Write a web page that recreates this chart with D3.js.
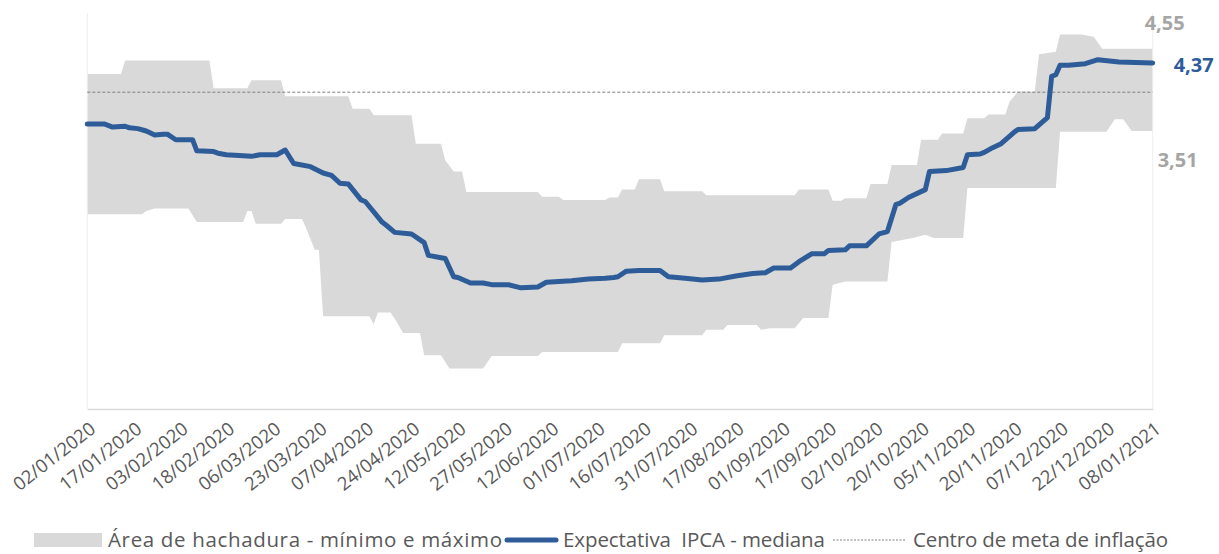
<!DOCTYPE html>
<html>
<head>
<meta charset="utf-8">
<script src="https://cdn.jsdelivr.net/npm/d3@7"></script>
<style>
  body { margin: 0; background: #fff; }
  text { font-family: "Open Sans", "Noto Sans", sans-serif; }
</style>
</head>
<body>
<div id="container"></div>
<script>
/* CONSTANTS AND GLOBALS */
const width = 1219;
const height = 554;
const margin = { left: 87, right: 66, top: 13, bottom: 145 };

/* DATA - x is the business-day number since 02/01/2020 */
const tickLabels = ["02/01/2020", "17/01/2020", "03/02/2020", "18/02/2020", "06/03/2020", "23/03/2020",
  "07/04/2020", "24/04/2020", "12/05/2020", "27/05/2020", "12/06/2020", "01/07/2020", "16/07/2020",
  "31/07/2020", "17/08/2020", "01/09/2020", "17/09/2020", "02/10/2020", "20/10/2020", "05/11/2020",
  "20/11/2020", "07/12/2020", "22/12/2020", "08/01/2021"];
const daysPerTick = 11;
const lastDay = 253;

const medianDays = [0, 4, 6, 9, 10, 12, 14, 16, 18, 19, 21, 25, 26, 30, 31, 33, 36, 39, 41, 45,
  47, 49, 50, 53, 56, 58, 60, 62, 65, 66, 68, 70, 71, 73, 77, 80, 81, 84, 85, 87,
  88, 91, 94, 96, 100, 103, 107, 109, 115, 119, 123, 125, 126, 128, 131, 136, 138, 142, 146, 150,
  154, 158, 161, 163, 167, 169, 172, 175, 176, 180, 181, 185, 188, 190, 192, 193, 195, 199, 200, 204,
  208, 209, 212, 213, 215, 217, 220, 221, 225, 228, 229, 230, 231, 233, 237, 240, 245, 253];
const medianValues = [3.60, 3.60, 3.56, 3.57, 3.55, 3.54, 3.51, 3.46, 3.47, 3.47, 3.40, 3.40, 3.26, 3.25, 3.23, 3.21, 3.20, 3.19, 3.21, 3.21,
  3.27, 3.10, 3.09, 3.06, 2.98, 2.95, 2.85, 2.84, 2.64, 2.62, 2.49, 2.36, 2.32, 2.23, 2.21, 2.10, 1.94, 1.91, 1.90, 1.67,
  1.66, 1.59, 1.59, 1.57, 1.57, 1.53, 1.54, 1.60, 1.62, 1.64, 1.65, 1.66, 1.67, 1.74, 1.75, 1.75, 1.67, 1.65, 1.63, 1.64,
  1.68, 1.71, 1.72, 1.78, 1.78, 1.86, 1.96, 1.96, 2.00, 2.01, 2.06, 2.06, 2.21, 2.24, 2.58, 2.60, 2.67, 2.77, 3.00, 3.01,
  3.05, 3.21, 3.22, 3.24, 3.30, 3.35, 3.49, 3.53, 3.54, 3.68, 4.20, 4.22, 4.34, 4.34, 4.36, 4.41, 4.38, 4.37];

const maxDays = [0, 8, 9, 29, 30, 38, 39, 46, 47, 62, 63, 67, 68, 77, 78, 84, 85, 87, 89, 90,
  107, 108, 112, 113, 123, 124, 126, 127, 130, 131, 136, 137, 146, 147, 168, 169, 176, 177, 179, 180,
  185, 186, 190, 191, 197, 198, 202, 203, 208, 209, 213, 214, 218, 219, 221, 225, 226, 230, 231, 236,
  239, 241, 253];
const maxValues = [4.23, 4.23, 4.40, 4.40, 4.05, 4.05, 4.15, 4.15, 3.95, 3.95, 3.79, 3.79, 3.71, 3.71, 3.35, 3.35, 3.14, 3.00, 3.00, 2.74,
  2.74, 2.68, 2.68, 2.64, 2.64, 2.67, 2.67, 2.77, 2.77, 2.90, 2.90, 2.75, 2.75, 2.70, 2.70, 2.77, 2.77, 2.63, 2.63, 2.66,
  2.66, 2.84, 2.84, 3.08, 3.08, 3.40, 3.40, 3.48, 3.48, 3.67, 3.67, 3.72, 3.72, 3.88, 4.01, 4.01, 4.48, 4.51, 4.73, 4.73,
  4.70, 4.55, 4.55];

const minDays = [0, 13, 14, 16, 24, 26, 37, 38, 39, 40, 46, 47, 51, 52, 54, 55, 56, 67, 68, 69,
  72, 73, 75, 79, 80, 84, 86, 94, 96, 107, 108, 126, 127, 136, 137, 146, 147, 151, 152, 159,
  160, 162, 168, 170, 176, 177, 180, 190, 191, 196, 199, 201, 208, 209, 230, 231, 242, 244, 246, 248,
  253];
const minValues = [2.46, 2.46, 2.50, 2.53, 2.53, 2.36, 2.36, 2.50, 2.50, 2.34, 2.34, 2.40, 2.40, 2.28, 2.01, 2.01, 1.17, 1.17, 1.07, 1.22,
  1.22, 1.14, 0.96, 0.96, 0.68, 0.68, 0.51, 0.51, 0.67, 0.67, 0.72, 0.72, 0.83, 0.83, 0.93, 0.93, 1.00, 1.00, 1.06, 1.06,
  1.00, 1.02, 1.02, 1.15, 1.15, 1.57, 1.61, 1.61, 2.11, 2.16, 2.20, 2.16, 2.16, 2.79, 2.79, 3.50, 3.50, 3.66, 3.66, 3.51,
  3.51];

const targetCenter = 4.00;

const legendLabels = ["Área de hachadura - mínimo e máximo", "Expectativa  IPCA - mediana", "Centro de meta de inflação"];

const blue = "#2e5c99";
const bandGray = "#d9d9d9";
const textGray = "#595959";
const labelGray = "#a5a5a5";

/* SCALES */
const svg = d3.select("#container")
  .append("svg")
  .attr("width", width)
  .attr("height", height)

const xScale = d3.scaleLinear()
  .domain([0, lastDay])
  .range([margin.left + 0.3, width - margin.right - 0.3])

const yScale = d3.scaleLinear()
  .domain([0, 5])
  .range([height - margin.bottom, margin.top])

const fmt = v => d3.format(".2f")(v).replace(".", ",")

/* BAND (min - max) */
const maxPts = maxDays.map((d, i) => [d, maxValues[i]])
const minPts = minDays.map((d, i) => [d, minValues[i]])
const lineGen = d3.line()
  .x(d => xScale(d[0]))
  .y(d => yScale(d[1]))

svg.append("path")
  .attr("d", lineGen(maxPts.concat(minPts.slice().reverse())) + "Z")
  .attr("fill", bandGray)

/* faint vertical frame lines */
svg.selectAll(".vline")
  .data([0, lastDay])
  .join("line")
  .attr("class", "vline")
  .attr("x1", d => xScale(d))
  .attr("x2", d => xScale(d))
  .attr("y1", yScale(5))
  .attr("y2", yScale(0))
  .attr("stroke", "#eeeeee")
  .attr("stroke-width", 1)

/* X AXIS */
const xAxis = d3.axisBottom(xScale)
  .tickValues(tickLabels.map((d, i) => i * daysPerTick))
  .tickFormat((d, i) => tickLabels[i])
  .tickSize(0)
  .tickSizeOuter(0)

const gx = svg.append("g")
  .attr("transform", `translate(0, ${yScale(0)})`)
  .call(xAxis)

gx.select(".domain").attr("stroke", "#d9d9d9").attr("stroke-width", 1.5)
gx.selectAll("text")
  .attr("fill", textGray)
  .attr("font-size", 18.5)
  .attr("text-anchor", "end")
  .attr("x", 0)
  .attr("y", 0)
  .attr("dy", "0.35em")
  .attr("transform", "translate(5, 17) rotate(-38)")

/* TARGET CENTER */
svg.append("line")
  .attr("x1", xScale(0))
  .attr("x2", xScale(lastDay))
  .attr("y1", yScale(targetCenter))
  .attr("y2", yScale(targetCenter))
  .attr("stroke", "#7f7f7f")
  .attr("stroke-width", 1)
  .attr("stroke-dasharray", "3,2")

/* MEDIAN */
const medPts = medianDays.map((d, i) => [d, medianValues[i]])
svg.append("path")
  .attr("d", lineGen(medPts))
  .attr("fill", "none")
  .attr("stroke", blue)
  .attr("stroke-width", 5)
  .attr("stroke-linejoin", "round")
  .attr("stroke-linecap", "round")

/* END LABELS */
const xEnd = xScale(lastDay)
const lastMax = maxValues[maxValues.length - 1]
const lastMin = minValues[minValues.length - 1]
const lastMed = medianValues[medianValues.length - 1]

svg.append("text")
  .attr("x", xEnd - 8)
  .attr("y", yScale(lastMax) - 19)
  .attr("fill", labelGray)
  .attr("font-size", 20)
  .attr("font-weight", "bold")
  .text(fmt(lastMax))

svg.append("text")
  .attr("x", xEnd + 21)
  .attr("y", yScale(lastMed) + 9)
  .attr("fill", blue)
  .attr("font-size", 20)
  .attr("font-weight", "bold")
  .text(fmt(lastMed))

svg.append("text")
  .attr("x", xEnd + 5)
  .attr("y", yScale(lastMin) + 36)
  .attr("fill", labelGray)
  .attr("font-size", 20)
  .attr("font-weight", "bold")
  .text(fmt(lastMin))

/* LEGEND */
const legendY = 540
const legend = svg.append("g")

legend.append("rect")
  .attr("x", 34).attr("y", legendY - 7)
  .attr("width", 68).attr("height", 14)
  .attr("fill", bandGray)

legend.append("line")
  .attr("x1", 507).attr("x2", 556)
  .attr("y1", legendY).attr("y2", legendY)
  .attr("stroke", blue).attr("stroke-width", 5)
  .attr("stroke-linecap", "round")

legend.append("line")
  .attr("x1", 833).attr("x2", 906)
  .attr("y1", legendY).attr("y2", legendY)
  .attr("stroke", "#7f7f7f").attr("stroke-width", 1)
  .attr("stroke-dasharray", "2,1.5")

legend.selectAll(".ltext")
  .data(legendLabels)
  .join("text")
  .attr("class", "ltext")
  .attr("x", (d, i) => [108, 563, 913][i])
  .attr("y", legendY)
  .attr("dy", "0.35em")
  .attr("fill", textGray)
  .attr("font-size", 20.5)
  .attr("textLength", (d, i) => [394, 262, 255][i])
  .attr("lengthAdjust", "spacing")
  .style("white-space", "pre")
  .text(d => d)
</script>
</body>
</html>
